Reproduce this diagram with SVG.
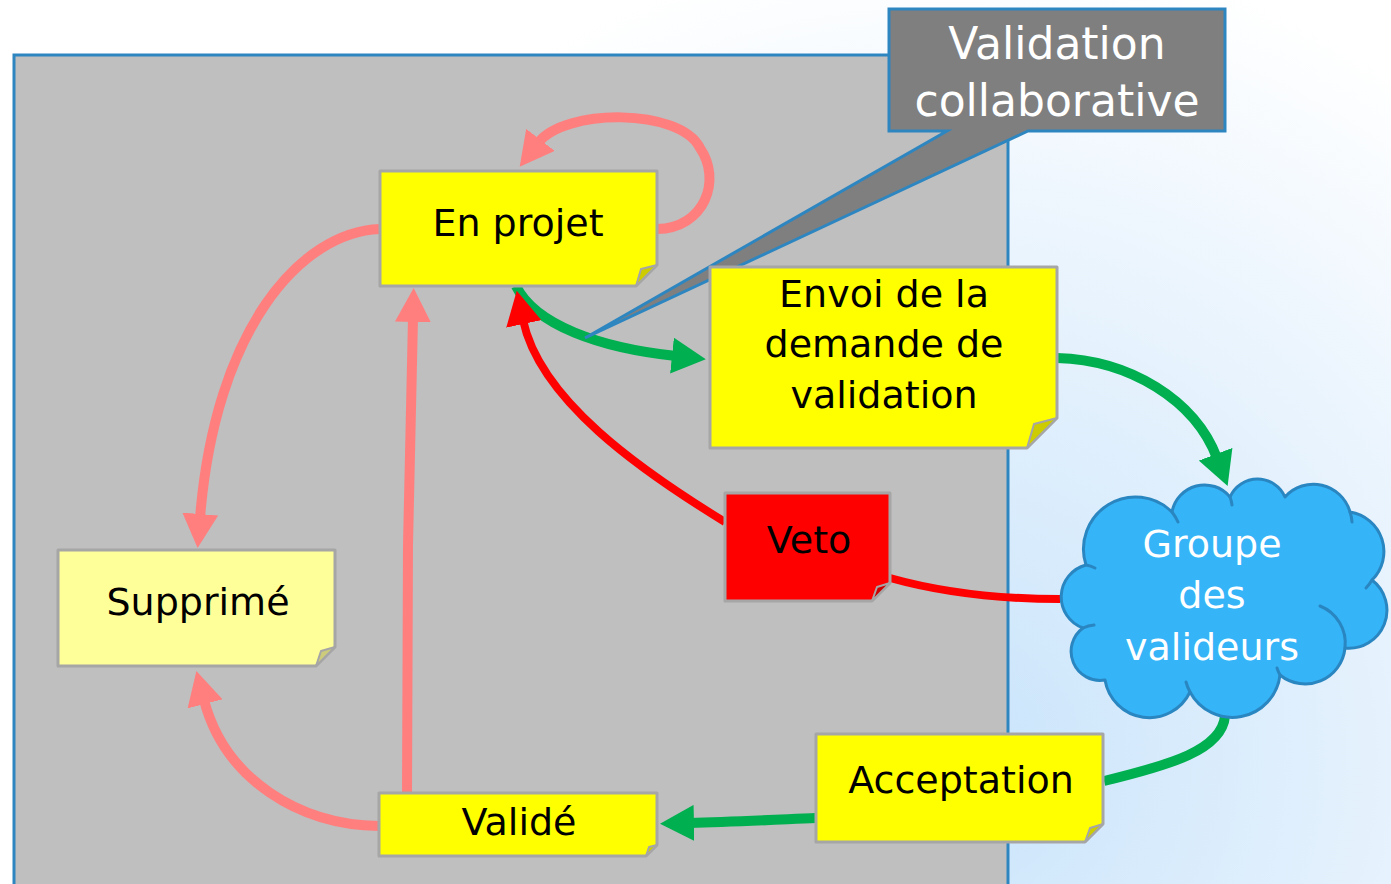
<svg xmlns="http://www.w3.org/2000/svg" width="1391" height="884" viewBox="0 0 1391 884">
<defs>
<radialGradient id="bg" cx="950" cy="760" r="820" gradientUnits="userSpaceOnUse">
<stop offset="0" stop-color="#c9e4fb"/>
<stop offset="0.55" stop-color="#e6f2fd"/>
<stop offset="1" stop-color="#ffffff"/>
</radialGradient>
<marker id="aPink" markerUnits="userSpaceOnUse" markerWidth="36" markerHeight="36" refX="4" refY="18" orient="auto" viewBox="0 0 36 36"><path d="M0,0 L34,18 L0,36 Z" fill="#ff7f7f"/></marker>
<marker id="aGreen" markerUnits="userSpaceOnUse" markerWidth="36" markerHeight="36" refX="4" refY="18" orient="auto" viewBox="0 0 36 36"><path d="M0,0 L34,18 L0,36 Z" fill="#00b050"/></marker>
<marker id="aRed" markerUnits="userSpaceOnUse" markerWidth="36" markerHeight="36" refX="4" refY="18" orient="auto" viewBox="0 0 36 36"><path d="M0,0 L34,18 L0,36 Z" fill="#ff0000"/></marker>
</defs>
<style>
.lbl{font-family:"DejaVu Sans",sans-serif;font-size:38px;fill:#000;text-anchor:middle}
.wl{font-family:"DejaVu Sans",sans-serif;font-size:38px;fill:#fff;text-anchor:middle}
.cl{font-family:"DejaVu Sans",sans-serif;font-size:44px;fill:#fff;text-anchor:middle}
.note{stroke:#a6a6a6;stroke-width:3;stroke-linejoin:round}
.fold{stroke:#a6a6a6;stroke-width:2;stroke-linejoin:round}
.pink{fill:none;stroke:#ff7f7f;stroke-width:10}
.green{fill:none;stroke:#00b050;stroke-width:10}
.red{fill:none;stroke:#ff0000;stroke-width:8}
</style>
<rect x="0" y="0" width="1391" height="884" fill="url(#bg)"/>
<rect id="panel" x="14" y="55" width="994" height="850" fill="#bfbfbf" stroke="#2e86c1" stroke-width="3"/>

<g id="connectors">
<path class="pink" d="M657,229 C705,228 722,180 700,148 C680,108 565,108 538,143" marker-end="url(#aPink)"/>
<path class="pink" d="M380,229 C300,232 215,330 200,518" marker-end="url(#aPink)"/>
<path class="pink" d="M407,795 L408,545 L413,318" marker-end="url(#aPink)"/>
<path class="pink" d="M379,826 C300,825 225,780 204,700" marker-end="url(#aPink)"/>
<path class="green" d="M516,286 C535,325 600,348 676,356" marker-end="url(#aGreen)"/>
<path class="green" d="M1057,358 C1130,360 1195,400 1217,458" marker-end="url(#aGreen)"/>
<path class="green" d="M1225,716 C1222,750 1170,765 1104,781"/>
<path class="green" d="M816,818 C770,820 730,822 690,823" marker-end="url(#aGreen)"/>
<path class="red" d="M1060,599 C1000,599 940,592 890,578"/>
<path class="red" d="M725,522 C640,470 540,400 523,320" marker-end="url(#aRed)"/>
</g>

<g id="callout">
<path d="M889,9 H1225 V131 H1028 L585,338 L947,131 H889 Z" fill="#7f7f7f" stroke="#2e86c1" stroke-width="3" stroke-linejoin="miter"/>
<text class="cl" x="1057" y="59">Validation</text>
<text class="cl" x="1057" y="116">collaborative</text>
</g>

<g id="en-projet">
<path class="note" d="M380,171 H657 V265 L636,286 H380 Z" fill="#ffff00"/>
<path class="fold" d="M657,265 L641,269 L636,286 Z" fill="#cccc00"/>
<text class="lbl" x="518" y="236">En projet</text>
</g>

<g id="envoi">
<path class="note" d="M710,267 H1057 V418 L1027,448 H710 Z" fill="#ffff00"/>
<path class="fold" d="M1057,418 L1034,424 L1027,448 Z" fill="#cccc00"/>
<text class="lbl" x="884" y="307">Envoi de la</text>
<text class="lbl" x="884" y="357">demande de</text>
<text class="lbl" x="884" y="408">validation</text>
</g>

<g id="supprime">
<path class="note" d="M58,550 H335 V647 L316,666 H58 Z" fill="#ffff99"/>
<path class="fold" d="M335,647 L321,651 L316,666 Z" fill="#cccc7a"/>
<text class="lbl" x="198" y="615">Supprimé</text>
</g>

<g id="valide">
<path class="note" d="M379,793 H657 V845 L646,856 H379 Z" fill="#ffff00"/>
<path class="fold" d="M657,845 L649,847 L646,856 Z" fill="#cccc00"/>
<text class="lbl" x="519" y="835">Validé</text>
</g>

<g id="veto">
<path class="note" d="M725,493 H890 V583 L872,601 H725 Z" fill="#ff0000"/>
<path class="fold" d="M890,583 L877,587 L872,601 Z" fill="#cc0000"/>
<text class="lbl" x="809" y="553">Veto</text>
</g>

<g id="acceptation">
<path class="note" d="M816,734 H1103 V824 L1085,842 H816 Z" fill="#ffff00"/>
<path class="fold" d="M1103,824 L1090,828 L1085,842 Z" fill="#cccc00"/>
<text class="lbl" x="961" y="793">Acceptation</text>
</g>

<g id="groupe">
<path d="M1086,565 A52,52 0 0 1 1172,512 A33,33 0 0 1 1230,497 A30,30 0 0 1 1285,497 A38,38 0 0 1 1350,512 A40,40 0 0 1 1372,580 A38,38 0 0 1 1345,648 A40,40 0 0 1 1280,675 A48,48 0 0 1 1190,692 A45,45 0 0 1 1105,680 A29,29 0 0 1 1083,628 A33,33 0 0 1 1086,565 Z" fill="#35b4f8" stroke="#2a86c0" stroke-width="3" stroke-linejoin="round"/>
<g fill="none" stroke="#2a86c0" stroke-width="3" stroke-linecap="round">
<path d="M1172,512 A52,52 0 0 1 1178,522"/>
<path d="M1230,497 A33,33 0 0 1 1232,505"/>
<path d="M1350,512 A38,38 0 0 1 1352,522"/>
<path d="M1372,580 A40,40 0 0 1 1366,588"/>
<path d="M1320,606 A40,40 0 0 1 1345,648"/>
<path d="M1280,675 A40,40 0 0 1 1277,668"/>
<path d="M1190,692 A48,48 0 0 1 1186,682"/>
<path d="M1083,628 A29,29 0 0 1 1094,625"/>
<path d="M1086,565 A33,33 0 0 1 1095,568"/>
</g>
<text class="wl" x="1212" y="557">Groupe</text>
<text class="wl" x="1212" y="608">des</text>
<text class="wl" x="1212" y="660">valideurs</text>
</g>
</svg>
